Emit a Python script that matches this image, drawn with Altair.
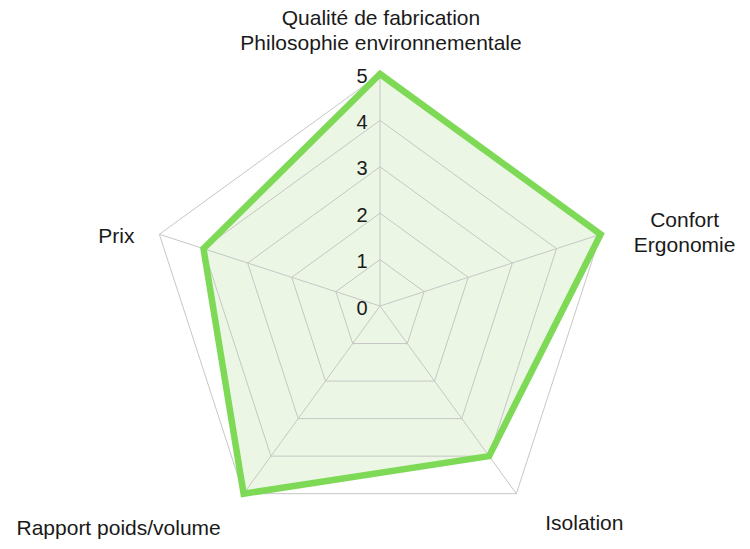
import altair as alt
import pandas as pd

categories = [
    "Qualité de fabrication\nPhilosophie environnementale",
    "Confort\nErgonomie",
    "Isolation",
    "Rapport poids/volume",
    "Prix",
]
values = [5, 5, 4, 5, 4]
grid_levels = [1, 2, 3, 4, 5]
tick_values = [0, 1, 2, 3, 4, 5]
r_max = 5

N = len(categories)
PAD_TOP = 8
W, H = 734, 525
CX, CY = 372, 290
K = 46.4  # px per unit
xdom = [-CX / K, (W - CX) / K]
ydom = [-(H - CY) / K, CY / K]

series_df = pd.DataFrame({"idx": list(range(N)), "cat": categories, "value": values})
grid_df = pd.DataFrame(
    [{"level": lv, "idx": i} for lv in grid_levels for i in range(N)]
)
spoke_df = pd.DataFrame({"idx": list(range(N)), "r": [r_max] * N})
tick_df = pd.DataFrame({"t": tick_values, "lab": [str(t) for t in tick_values]})
label_df = pd.DataFrame({"idx": list(range(N)), "cat": categories, "r": [r_max] * N})

xs = alt.Scale(domain=xdom, nice=False, zero=False)
ys = alt.Scale(domain=ydom, nice=False, zero=False)
ang = f"datum.idx * 2 * PI / {N}"

def X(field="px"):
    return alt.X(f"{field}:Q", scale=xs, axis=None)

def Y(field="py"):
    return alt.Y(f"{field}:Q", scale=ys, axis=None)

fill = (
    alt.Chart(series_df)
    .transform_calculate(px=f"datum.value * sin({ang})", py=f"datum.value * cos({ang})")
    .mark_line(interpolate="linear-closed", fill="#ebf7e4", strokeWidth=0)
    .encode(x=X(), y=Y(), order="idx:Q")
)

grid = (
    alt.Chart(grid_df)
    .transform_calculate(px=f"datum.level * sin({ang})", py=f"datum.level * cos({ang})")
    .mark_line(interpolate="linear-closed", color="#c6c6c6", strokeWidth=1)
    .encode(x=X(), y=Y(), order="idx:Q", detail="level:N")
)

spokes = (
    alt.Chart(spoke_df)
    .transform_calculate(
        px=f"datum.r * sin({ang})", py=f"datum.r * cos({ang})", ox="0", oy="0"
    )
    .mark_rule(color="#c6c6c6", strokeWidth=1)
    .encode(x=X("ox"), y=Y("oy"), x2="px:Q", y2="py:Q")
)

outline = (
    alt.Chart(series_df)
    .transform_calculate(px=f"datum.value * sin({ang})", py=f"datum.value * cos({ang})")
    .mark_line(
        interpolate="linear-closed", color="#7ed957", strokeWidth=6.5, strokeJoin="miter"
    )
    .encode(x=X(), y=Y(), order="idx:Q")
)

ticks = (
    alt.Chart(tick_df)
    .transform_calculate(px="0", py="datum.t")
    .mark_text(align="right", baseline="middle", dx=-12.5, dy=2.5, fontSize=20,
               font="Liberation Sans", color="#1a1a1a")
    .encode(x=X(), y=Y(), text="lab:N")
)

offsets = [(1, -55), (84, -13), (68, 30), (-125, 35), (-43, 3)]
label_layers = []
for i, (dx, dy) in enumerate(offsets):
    label_layers.append(
        alt.Chart(label_df)
        .transform_filter(f"datum.idx == {i}")
        .transform_calculate(px=f"datum.r * sin({ang})", py=f"datum.r * cos({ang})")
        .mark_text(align="center", baseline="middle", dx=dx, dy=dy, fontSize=21,
                   lineHeight=25, lineBreak="\n", font="Liberation Sans", color="#1a1a1a")
        .encode(x=X(), y=Y(), text="cat:N")
    )

chart = (
    alt.layer(fill, grid, spokes, outline, ticks, *label_layers)
    .properties(
        width=W,
        height=H,
        padding={"left": 0, "top": PAD_TOP, "right": 0, "bottom": 0},
        autosize="none",
    )
    .configure_view(stroke=None)
)

chart.save("out.html", embed_options={"renderer": "svg", "actions": False})
